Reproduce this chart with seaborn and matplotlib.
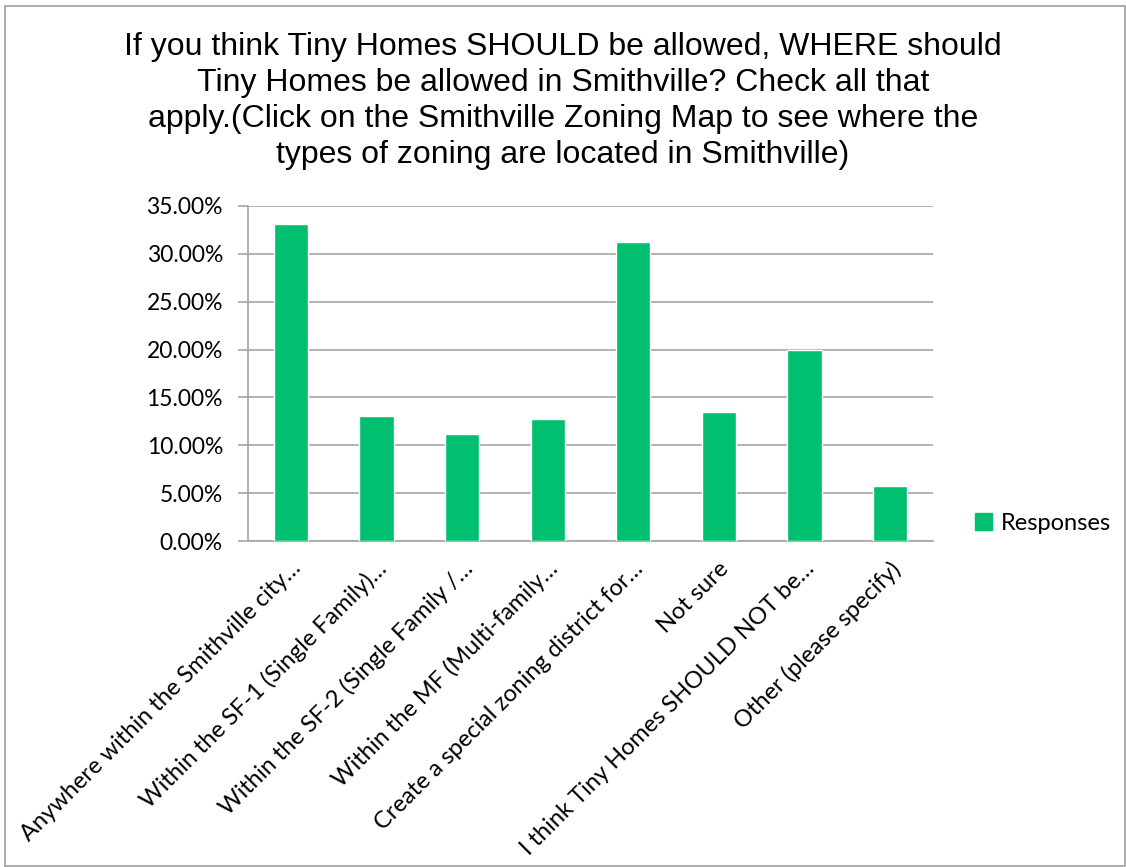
import matplotlib
matplotlib.use("Agg")
import matplotlib.pyplot as plt
import matplotlib.ticker as mticker
import matplotlib.patches as mpatches
import matplotlib.transforms as mtransforms
import seaborn as sns
import pandas as pd

categories = [
    "Anywhere within the Smithville city…",
    "Within the SF-1 (Single Family)…",
    "Within the SF-2 (Single Family /…",
    "Within the MF (Multi-family…",
    "Create a special zoning district for…",
    "Not sure",
    "I think Tiny Homes SHOULD NOT be…",
    "Other (please specify)",
]
responses = [33.09, 13.06, 11.21, 12.71, 31.20, 13.48, 20.00, 5.78]
series_name = "Responses"
title = ("If you think Tiny Homes SHOULD be allowed, WHERE should\n"
         "Tiny Homes be allowed in Smithville? Check all that\n"
         "apply.(Click on the Smithville Zoning Map to see where the\n"
         "types of zoning are located in Smithville)")

GREEN = "#00BF6F"
GRID = "#A6A6A6"

sns.set_theme(style="white")
plt.rcParams["font.family"] = ["Lato", "DejaVu Sans"]
plt.rcParams["text.color"] = "black"
plt.rcParams["xtick.color"] = "black"
plt.rcParams["ytick.color"] = "black"

df = pd.DataFrame({"Option": categories, "Percent": responses,
                   "Series": [series_name] * len(categories)})

fig = plt.figure(figsize=(11.26, 8.67), dpi=100)
ax = fig.add_axes([248 / 1126, 1 - 541 / 867, (933 - 248) / 1126, (541 - 206) / 867])

sns.barplot(data=df, x="Option", y="Percent", hue="Series",
            palette={series_name: GREEN}, saturation=1, width=0.4,
            ax=ax, legend=False, zorder=3)

ax.set_ylim(0, 35)
ax.set_xlim(-0.5, len(categories) - 0.5)
ax.yaxis.set_major_locator(mticker.MultipleLocator(5))
ax.yaxis.set_major_formatter(mticker.PercentFormatter(decimals=2))
ax.yaxis.grid(True, color=GRID, linewidth=1.2, zorder=0)
ax.set_axisbelow(True)

for side in ("top", "right"):
    ax.spines[side].set_visible(False)
for side in ("left", "bottom"):
    ax.spines[side].set_color(GRID)
    ax.spines[side].set_linewidth(1.2)

# tick marks sit between the categories on the x axis
ax.set_xticks([i - 0.5 for i in range(len(categories) + 1)], minor=True)
ax.tick_params(axis="x", which="minor", length=7, width=1.2, color=GRID, direction="out")
ax.tick_params(axis="x", which="major", length=0, pad=12)
ax.tick_params(axis="y", which="major", length=7, width=1.2, color=GRID,
               direction="out", labelsize=16.5, pad=11, left=True,
               labelcolor="black")
ax.set_xticks(range(len(categories)))
ax.set_xticklabels(categories, rotation=45, ha="right", rotation_mode="anchor",
                   fontsize=17, color="black")
shift = mtransforms.ScaledTranslation(-1 / 100, 0, fig.dpi_scale_trans)
for lab in ax.get_xticklabels():
    lab.set_transform(lab.get_transform() + shift)
ax.set_xlabel("")
ax.set_ylabel("")

fig.text(0.5, 1 - 101 / 867, title, ha="center", va="center", color="black",
         fontsize=23, family=["Liberation Sans", "DejaVu Sans"], linespacing=1.25)

handle = mpatches.Patch(color=GREEN, label=series_name)
fig.legend(handles=[handle], loc="center left", bbox_to_anchor=(954 / 1126, 1 - 523 / 867),
           frameon=False, fontsize=17, handlelength=0.7, handleheight=0.7,
           handletextpad=0.4, labelcolor="black")

fig.patches.append(mpatches.Rectangle((5 / 1126, 1 / 867), 1 - 6 / 1126, 1 - 7 / 867,
                                      transform=fig.transFigure, fill=False,
                                      edgecolor="#A0A0A0", linewidth=1.2))

fig.savefig("out.png", dpi=100, facecolor="white")
